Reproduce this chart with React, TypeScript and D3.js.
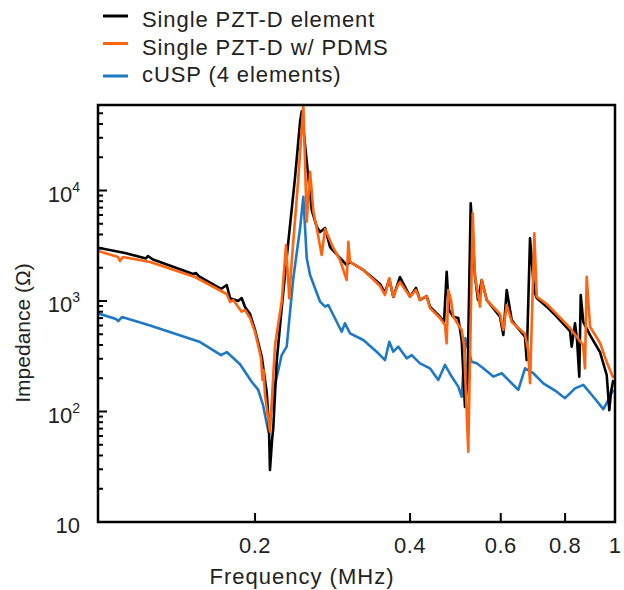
import React from 'react';
import * as d3 from 'd3';

// Frequency in MHz, impedance in ohms
const blackFreq = [0.0991, 0.1118, 0.1228, 0.1239, 0.1267, 0.1516, 0.1536, 0.1557, 0.1718, 0.1762, 0.1789, 0.1854, 0.1884, 0.1912, 0.1956, 0.2, 0.2061, 0.2108, 0.2129, 0.2138, 0.2158, 0.217, 0.2203, 0.2253, 0.2321, 0.2391, 0.2446, 0.2464, 0.252, 0.2577, 0.2635, 0.2675, 0.2735, 0.2797, 0.2924, 0.3013, 0.3058, 0.3245, 0.3497, 0.3576, 0.3645, 0.3711, 0.3824, 0.3999, 0.4107, 0.4181, 0.4308, 0.4372, 0.4572, 0.4656, 0.4711, 0.476, 0.4853, 0.4962, 0.5038, 0.5113, 0.5171, 0.5246, 0.5348, 0.542, 0.5511, 0.5635, 0.598, 0.6069, 0.6162, 0.6301, 0.6444, 0.6687, 0.6738, 0.6839, 0.6963, 0.7047, 0.7368, 0.7705, 0.8178, 0.824, 0.8363, 0.8438, 0.8524, 0.8579, 0.8678, 0.8944, 0.9352, 0.9636, 0.9748, 0.9822, 0.9924];
const blackZ = [3035, 2720, 2430, 2555, 2375, 1755, 1790, 1667, 1285, 1395, 1058, 1000, 1064, 883, 762, 547, 313, 147, 68, 29.6, 55.2, 70.9, 282, 864, 3440, 12970, 41950, 52000, 18230, 6660, 4700, 4210, 4580, 3080, 2450, 2117, 2254, 1910, 1425, 1182, 1582, 1086, 1649, 1094, 1312, 1021, 1109, 888, 721, 646, 1840, 829, 721, 702, 444, 110, 193, 7660, 1660, 1021, 1550, 1021, 721, 492, 1259, 673, 585, 475, 292, 3690, 1259, 1064, 888, 721, 535, 386, 628, 444, 207, 1133, 646, 492, 345, 214, 103, 150, 193];

const orangeFreq = [0.0991, 0.1084, 0.1093, 0.1108, 0.1251, 0.1529, 0.1762, 0.1789, 0.1813, 0.1884, 0.1912, 0.1956, 0.2, 0.2054, 0.2068, 0.2077, 0.2091, 0.2138, 0.2187, 0.2253, 0.2297, 0.2331, 0.2356, 0.2427, 0.2482, 0.252, 0.2558, 0.2596, 0.2635, 0.2694, 0.2735, 0.2838, 0.2924, 0.3013, 0.3035, 0.3058, 0.3245, 0.3497, 0.3576, 0.3645, 0.3711, 0.379, 0.3824, 0.3999, 0.4107, 0.4181, 0.4308, 0.4372, 0.4572, 0.4675, 0.4711, 0.4745, 0.4803, 0.4853, 0.5038, 0.509, 0.5189, 0.5293, 0.5348, 0.5469, 0.5511, 0.5635, 0.598, 0.6069, 0.6162, 0.6301, 0.6687, 0.6778, 0.6839, 0.6972, 0.7047, 0.7368, 0.7705, 0.8178, 0.8667, 0.8744, 0.8811, 0.8944, 0.9352, 0.9636, 0.9924];
const orangeZ = [2835, 2500, 2300, 2500, 2254, 1649, 1157, 980, 1021, 800, 829, 702, 524, 305, 193, 238, 141, 65.6, 400, 986, 3210, 1058, 2270, 12890, 59400, 5220, 14790, 6430, 4580, 2610, 4490, 3018, 2350, 1550, 3440, 2254, 1910, 1368, 1133, 1605, 1094, 1395, 1486, 1094, 1259, 1021, 1109, 864, 702, 607, 414, 1259, 1021, 721, 547, 400, 43.3, 6220, 1660, 888, 1550, 1021, 762, 547, 920, 646, 502, 360, 180, 4100, 1094, 940, 762, 570, 400, 246, 1660, 585, 417, 281, 201];

const blueFreq = [0.0991, 0.1074, 0.1085, 0.1103, 0.1251, 0.1564, 0.1718, 0.1762, 0.187, 0.197, 0.2029, 0.2072, 0.2123, 0.2187, 0.2253, 0.2304, 0.2373, 0.2446, 0.2482, 0.252, 0.2558, 0.2675, 0.2735, 0.2775, 0.2946, 0.299, 0.3058, 0.3245, 0.347, 0.3576, 0.3645, 0.3711, 0.3795, 0.394, 0.4029, 0.4181, 0.4372, 0.4538, 0.4675, 0.4818, 0.4962, 0.5038, 0.5124, 0.5268, 0.5389, 0.555, 0.5804, 0.6026, 0.6206, 0.649, 0.6687, 0.6941, 0.7257, 0.7705, 0.7997, 0.8363, 0.8678, 0.9077, 0.949, 0.9705, 0.9924];
const blueZ = [774, 687, 659, 716, 600, 425, 324, 345, 268, 186, 157, 115, 65.6, 174, 324, 386, 1605, 4550, 8790, 2435, 1720, 986, 888, 920, 527, 628, 510, 444, 336, 292, 428, 348, 386, 303, 324, 273, 246, 193, 264, 207, 168, 136, 462, 282, 273, 246, 207, 222, 193, 157, 246, 222, 180, 151, 132, 162, 174, 136, 105, 127, 157];

const xTickValues = [0.2, 0.4, 0.6, 0.8, 1];
const xTickLabels = ['0.2', '0.4', '0.6', '0.8', '1'];
const yMajorValues = [10, 100, 1000, 10000];
const yTickBase = ['10', '10', '10', '10'];
const yTickExp = ['', '2', '3', '4'];
const legendLabels = ['Single PZT-D element', 'Single PZT-D w/ PDMS', 'cUSP (4 elements)'];
const seriesColors = ['#000000', '#ff6410', '#1f78c4'];

const FONT = '"Liberation Sans", Arial, Helvetica, sans-serif';

export default function App() {
  const W = 624, H = 590;
  const L = 98, R = 615, T = 105, B = 522;
  const x = d3.scaleLog().domain([0.0991, 1]).range([L, R]);
  const y = d3.scaleLog().domain([10, 59400]).range([B, T]);

  const line = d3.line<[number, number]>().x(d => x(d[0])).y(d => y(d[1]));
  const zip = (f: number[], z: number[]) => f.map((v, i) => [v, z[i]] as [number, number]);
  const series = [
    { data: zip(blueFreq, blueZ), color: seriesColors[2] },
    { data: zip(blackFreq, blackZ), color: seriesColors[0] },
    { data: zip(orangeFreq, orangeZ), color: seriesColors[1] },
  ];

  const minor: number[] = [];
  for (let e = 1; e <= 4; e++) for (let k = 2; k <= 9; k++) {
    const v = k * Math.pow(10, e);
    if (v < 59400) minor.push(v);
  }

  const legendLineY = [16, 43.5, 76];
  const legendTextY = [27, 54.5, 82];

  return (
    <svg width={W} height={H} style={{ position: 'absolute', left: 0, top: 0, background: '#fff' }} fontFamily={FONT}>
      <defs>
        <clipPath id="plotclip"><rect x={L} y={T - 2} width={R - L} height={B - T + 2} /></clipPath>
      </defs>
      <rect x={0} y={0} width={W} height={H} fill="#fff" />
      {/* legend */}
      {legendLabels.map((lab, i) => (
        <g key={lab}>
          <line x1={103} x2={128} y1={legendLineY[i]} y2={legendLineY[i]} stroke={seriesColors[i]} strokeWidth={3} />
          <text x={142} y={legendTextY[i]} fontSize={22} letterSpacing={0.9} fill="#222">{lab}</text>
        </g>
      ))}
      {/* data */}
      <g clipPath="url(#plotclip)">
        {series.map((s, i) => (
          <path key={i} d={line(s.data) || ''} fill="none" stroke={s.color} strokeWidth={2.6} strokeLinejoin="round" />
        ))}
      </g>
      {/* y ticks */}
      {minor.map(v => (
        <line key={'m' + v} x1={L} x2={L + 5} y1={y(v)} y2={y(v)} stroke="#000" strokeWidth={2} />
      ))}
      {yMajorValues.map(v => (
        <line key={'M' + v} x1={L} x2={L + 9} y1={y(v)} y2={y(v)} stroke="#000" strokeWidth={2} />
      ))}
      {yMajorValues.map((v, i) => (
        <text key={'yl' + v} x={80} y={y(v) + 11} fontSize={22} textAnchor="end" fill="#222">
          <tspan>{yTickBase[i]}</tspan>
          {yTickExp[i] && <tspan fontSize={14} dy={-10}>{yTickExp[i]}</tspan>}
        </text>
      ))}
      {/* x ticks */}
      {xTickValues.map((v, i) => (
        <g key={'x' + v}>
          {v < 1 && <line x1={x(v)} x2={x(v)} y1={B} y2={B - 9} stroke="#000" strokeWidth={2} />}
          <text x={x(v)} y={553} fontSize={22} textAnchor="middle" letterSpacing={0.5} fill="#222">{xTickLabels[i]}</text>
        </g>
      ))}
      {/* frame */}
      <rect x={L} y={T} width={R - L} height={B - T} fill="none" stroke="#000" strokeWidth={2.5} />
      {/* axis labels */}
      <text x={302} y={584} fontSize={22} textAnchor="middle" letterSpacing={1} fill="#222">Frequency (MHz)</text>
      <text transform={`translate(30,333) rotate(-90)`} fontSize={21} textAnchor="middle" fill="#222">Impedance (Ω)</text>
    </svg>
  );
}
